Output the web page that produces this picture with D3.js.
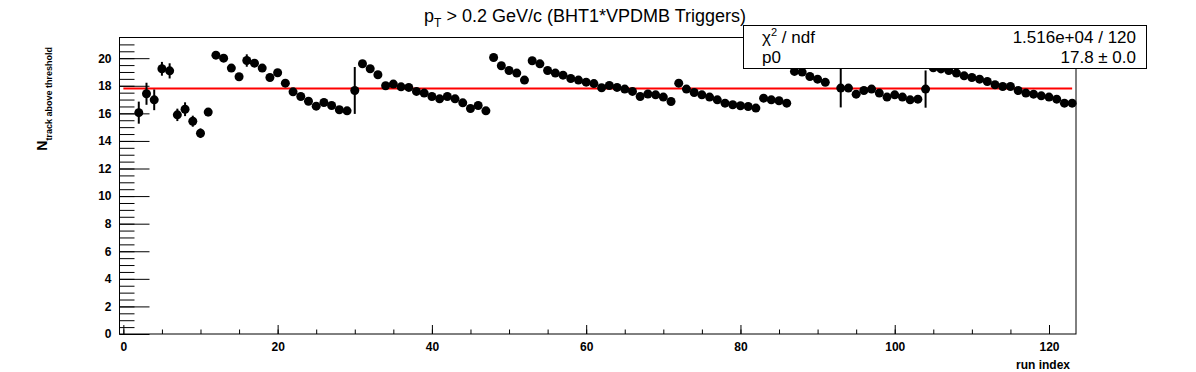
<!DOCTYPE html>
<html lang="en">
  <head>
    <meta charset="UTF-8">
    <title>Tracks above threshold per run</title>
    <style>
      body { margin: 0; background: #fff; }
      svg { font-family: "Liberation Sans", Arial, Helvetica, sans-serif; }
      .tick text { font-weight: bold; font-size: 12px; fill: #000; }
      .tick line { stroke: #000; }
    </style>
  </head>
  <body>
    <svg id="chart"></svg>

    <script src="https://cdn.jsdelivr.net/npm/d3@7"></script>

    <script>
      // Run index of every filled bin (bin 92 is empty)
      var runIndex = [2, 3, 4, 5, 6, 7, 8, 9, 10, 11, 12, 13, 14, 15, 16, 17, 18, 19, 20, 21,
        22, 23, 24, 25, 26, 27, 28, 29, 30, 31, 32, 33, 34, 35, 36, 37, 38, 39, 40, 41,
        42, 43, 44, 45, 46, 47, 48, 49, 50, 51, 52, 53, 54, 55, 56, 57, 58, 59, 60, 61,
        62, 63, 64, 65, 66, 67, 68, 69, 70, 71, 72, 73, 74, 75, 76, 77, 78, 79, 80, 81,
        82, 83, 84, 85, 86, 87, 88, 89, 90, 91, 93, 94, 95, 96, 97, 98, 99, 100, 101, 102,
        103, 104, 105, 106, 107, 108, 109, 110, 111, 112, 113, 114, 115, 116, 117, 118, 119, 120, 121, 122,
        123];

      // Mean number of tracks above threshold
      var nTrack = [16.05, 17.42, 16.98, 19.23, 19.08, 15.89, 16.30, 15.43, 14.56, 16.09, 20.22, 20.00, 19.28, 18.65, 19.83, 19.64, 19.28, 18.60, 18.94, 18.19,
        17.56, 17.22, 16.88, 16.52, 16.79, 16.57, 16.26, 16.18, 17.66, 19.60, 19.23, 18.80, 18.00, 18.12, 17.92, 17.88, 17.59, 17.47, 17.22, 17.05,
        17.22, 17.05, 16.76, 16.35, 16.57, 16.18, 20.05, 19.45, 19.11, 18.92, 18.41, 19.81, 19.59, 19.11, 18.92, 18.77, 18.53, 18.41, 18.26, 18.16,
        17.86, 18.02, 17.88, 17.76, 17.59, 17.22, 17.40, 17.34, 17.18, 16.86, 18.19, 17.76, 17.51, 17.34, 17.18, 16.98, 16.74, 16.62, 16.55, 16.50,
        16.38, 17.10, 16.98, 16.91, 16.74, 19.04, 18.99, 18.67, 18.48, 18.25, 17.83, 17.83, 17.39, 17.66, 17.76, 17.47, 17.18, 17.34, 17.18, 16.98,
        17.03, 17.76, 19.30, 19.22, 19.10, 18.92, 18.72, 18.60, 18.48, 18.31, 18.07, 17.95, 17.95, 17.66, 17.47, 17.39, 17.27, 17.18, 17.03, 16.74,
        16.74];

      // Statistical error on each point
      var nTrackErr = [0.80, 0.80, 0.75, 0.50, 0.55, 0.45, 0.50, 0.40, 0.35, 0.30, 0.20, 0.20, 0.20, 0.20, 0.45, 0.20, 0.20, 0.20, 0.20, 0.20,
        0.20, 0.20, 0.20, 0.20, 0.20, 0.20, 0.20, 0.20, 1.70, 0.20, 0.20, 0.20, 0.20, 0.20, 0.20, 0.20, 0.20, 0.20, 0.20, 0.20,
        0.20, 0.20, 0.20, 0.20, 0.20, 0.20, 0.20, 0.20, 0.20, 0.20, 0.20, 0.20, 0.20, 0.20, 0.20, 0.20, 0.20, 0.20, 0.20, 0.20,
        0.20, 0.20, 0.20, 0.20, 0.20, 0.20, 0.20, 0.20, 0.20, 0.20, 0.20, 0.20, 0.20, 0.20, 0.20, 0.20, 0.20, 0.20, 0.20, 0.20,
        0.20, 0.20, 0.20, 0.20, 0.20, 0.20, 0.20, 0.20, 0.20, 0.20, 1.40, 0.20, 0.20, 0.20, 0.20, 0.20, 0.20, 0.20, 0.20, 0.20,
        0.20, 1.35, 0.20, 0.20, 0.20, 0.20, 0.20, 0.20, 0.20, 0.20, 0.20, 0.20, 0.20, 0.20, 0.20, 0.20, 0.20, 0.20, 0.20, 0.20,
        0.20];

      // Constant fit (p0) and its range
      var fitValue = [17.8];
      var fitRange = [0, 123];

      // Axis ranges and tick values
      var xRange = [-0.5, 123.5];
      var yRange = [0, 21.5];
      var xMajorTicks = [0, 20, 40, 60, 80, 100, 120];
      var yMajorTicks = [0, 2, 4, 6, 8, 10, 12, 14, 16, 18, 20];

      // Stats box text
      var statNames = ["χ2 / ndf", "p0"];
      var statValues = ["1.516e+04 / 120", "17.8 \u00b1 0.0"];

      var width = 1196, height = 372;
      var frame = { left: 119.5, right: 1076, top: 37.5, bottom: 334 };

      var svg = d3.select("#chart")
        .attr("width", width)
        .attr("height", height);

      var x = d3.scaleLinear().domain(xRange).range([frame.left, frame.right]);
      var y = d3.scaleLinear().domain(yRange).range([frame.bottom, frame.top]);

      var points = runIndex.map(function(r, i) {
        return { run: r, value: nTrack[i], err: nTrackErr[i] };
      });

      // Frame
      svg.append("rect")
        .attr("x", frame.left)
        .attr("y", frame.top)
        .attr("width", frame.right - frame.left)
        .attr("height", frame.bottom - frame.top)
        .attr("fill", "none")
        .attr("stroke", "#000")
        .attr("stroke-width", 1);

      // Y axis: minor ticks every 0.5, major every 2 with labels
      svg.append("g")
        .attr("transform", "translate(" + frame.left + ",0)")
        .call(d3.axisLeft(y).tickValues(d3.range(0, 21.01, 0.5)).tickSize(-15).tickFormat(""))
        .call(function(g) { g.select(".domain").remove(); });

      svg.append("g")
        .attr("transform", "translate(" + frame.left + ",0)")
        .call(d3.axisLeft(y).tickValues(yMajorTicks).tickSize(-30).tickPadding(8).tickFormat(d3.format("d")))
        .call(function(g) { g.select(".domain").remove(); });

      // X axis: minor ticks every 5, major every 20 with labels
      svg.append("g")
        .attr("transform", "translate(0," + frame.bottom + ")")
        .call(d3.axisBottom(x).tickValues(d3.range(0, 123, 5)).tickSize(-4.5).tickFormat(""))
        .call(function(g) { g.select(".domain").remove(); });

      svg.append("g")
        .attr("transform", "translate(0," + frame.bottom + ")")
        .call(d3.axisBottom(x).tickValues(xMajorTicks).tickSize(-9).tickPadding(8).tickFormat(d3.format("d")))
        .call(function(g) { g.select(".domain").remove(); });

      // Fit line
      svg.append("line")
        .attr("x1", x(fitRange[0]))
        .attr("x2", x(fitRange[1]))
        .attr("y1", y(fitValue[0]))
        .attr("y2", y(fitValue[0]))
        .attr("stroke", "#ff0000")
        .attr("stroke-width", 2);

      // Error bars
      svg.append("g")
        .selectAll("line")
        .data(points)
        .enter()
        .append("line")
        .attr("x1", function(d) { return x(d.run); })
        .attr("x2", function(d) { return x(d.run); })
        .attr("y1", function(d) { return y(d.value - d.err); })
        .attr("y2", function(d) { return y(d.value + d.err); })
        .attr("stroke", "#000")
        .attr("stroke-width", 2);

      // Markers
      svg.append("g")
        .selectAll("circle")
        .data(points)
        .enter()
        .append("circle")
        .attr("cx", function(d) { return x(d.run); })
        .attr("cy", function(d) { return y(d.value); })
        .attr("r", 4.5)
        .attr("fill", "#000");

      // Title
      var title = svg.append("text")
        .attr("x", 585)
        .attr("y", 22)
        .attr("text-anchor", "middle")
        .attr("font-size", 18);
      title.append("tspan").text("p");
      title.append("tspan").attr("font-size", 12).attr("dy", 5).text("T");
      title.append("tspan").attr("dy", -5).text(" > 0.2 GeV/c (BHT1*VPDMB Triggers)");

      // Stats box
      var stats = svg.append("g");
      stats.append("rect")
        .attr("x", 743.5)
        .attr("y", 25.5)
        .attr("width", 403)
        .attr("height", 43)
        .attr("fill", "#fff")
        .attr("stroke", "#000");

      var chiLabel = stats.append("text")
        .attr("x", 762)
        .attr("y", 43)
        .attr("font-size", 17);
      chiLabel.append("tspan").text("χ");
      chiLabel.append("tspan").attr("font-size", 11).attr("dy", -7).text("2");
      chiLabel.append("tspan").attr("dy", 7).text(" / ndf");

      stats.append("text")
        .attr("x", 762)
        .attr("y", 63)
        .attr("font-size", 17)
        .text(statNames[1]);

      stats.selectAll(".statval")
        .data(statValues)
        .enter()
        .append("text")
        .attr("class", "statval")
        .attr("x", 1136)
        .attr("y", function(d, i) { return 43 + i * 20; })
        .attr("text-anchor", "end")
        .attr("font-size", 17)
        .text(function(d) { return d; });

      // Y axis title
      var yTitle = svg.append("text")
        .attr("transform", "translate(47,47) rotate(-90)")
        .attr("text-anchor", "end")
        .attr("font-weight", "bold")
        .attr("font-size", 14);
      yTitle.append("tspan").text("N");
      yTitle.append("tspan").attr("font-size", 9).attr("dy", 5).text("track above threshold");

      // X axis title
      svg.append("text")
        .attr("x", 1070)
        .attr("y", 369)
        .attr("text-anchor", "end")
        .attr("font-weight", "bold")
        .attr("font-size", 12)
        .text("run index");
    </script>
  </body>
</html>
